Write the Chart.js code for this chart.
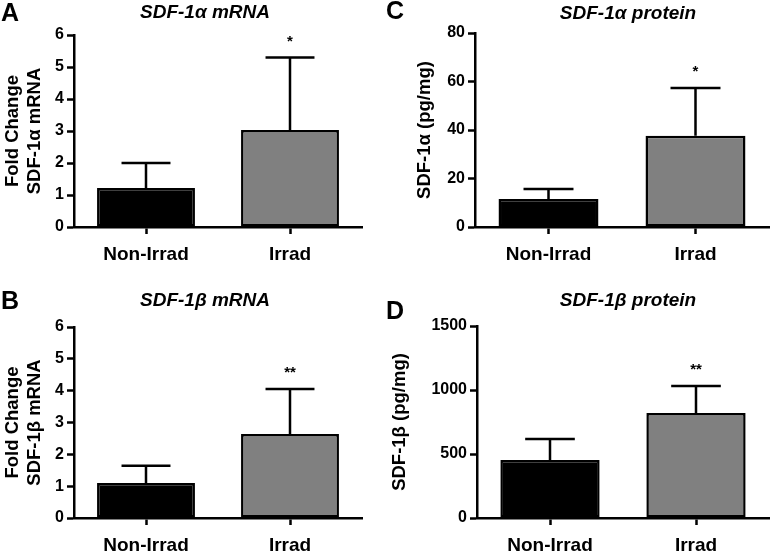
<!DOCTYPE html>
<html>
<head>
<meta charset="utf-8">
<script src="https://cdn.jsdelivr.net/npm/chart.js@4/dist/chart.umd.min.js"></script>
<style>
    html, body { margin: 0; padding: 0; background: #fff; }
    #wrap { position: relative; width: 771px; height: 556px; overflow: hidden; }
    .panel { position: absolute; }
</style>
</head>
<body>
<div id="wrap">
    <div class="panel" style="left:0;top:0;width:385px;height:278px;"><canvas id="chartA"></canvas></div>
    <div class="panel" style="left:385px;top:0;width:386px;height:278px;"><canvas id="chartC"></canvas></div>
    <div class="panel" style="left:0;top:278px;width:385px;height:278px;"><canvas id="chartB"></canvas></div>
    <div class="panel" style="left:385px;top:278px;width:386px;height:278px;"><canvas id="chartD"></canvas></div>
</div>
<script>
// ==================== 数据 ====================
const categories = ['Non-Irrad', 'Irrad'];

// A: SDF-1α mRNA (fold change)
const mrnaAlphaMean = [1.22, 3.03];
const mrnaAlphaErr = [0.78, 2.27];
const mrnaAlphaStars = ['', '*'];

// B: SDF-1β mRNA (fold change)
const mrnaBetaMean = [1.1, 2.64];
const mrnaBetaErr = [0.54, 1.41];
const mrnaBetaStars = ['', '**'];

// C: SDF-1α protein (pg/mg)
const protAlphaMean = [11.5, 37.6];
const protAlphaErr = [4.2, 19.7];
const protAlphaStars = ['', '*'];

// D: SDF-1β protein (pg/mg)
const protBetaMean = [453, 820];
const protBetaErr = [164, 211];
const protBetaStars = ['', '**'];

// y 轴刻度 [max, step]
const mrnaTicks = [6, 1];
const protAlphaTicks = [80, 20];
const protBetaTicks = [1500, 500];

const barColors = ['#000000', '#808080'];
const FONT = "'Liberation Sans', Arial, Helvetica, sans-serif";

// 误差线 + 星号
const errorBarPlugin = {
    id: 'errorBars',
    afterDatasetsDraw(chart, args, opts) {
        const { ctx } = chart;
        const yScale = chart.scales.y;
        const meta = chart.getDatasetMeta(0);
        const ds = chart.data.datasets[0];
        ctx.save();
        meta.data.forEach((bar, i) => {
            const top = yScale.getPixelForValue(ds.data[i] + opts.err[i]);
            const half = bar.width * 0.25;
            ctx.strokeStyle = '#000';
            ctx.lineWidth = 2.5;
            ctx.beginPath();
            ctx.moveTo(bar.x, bar.y);
            ctx.lineTo(bar.x, top);
            ctx.moveTo(bar.x - half, top);
            ctx.lineTo(bar.x + half, top);
            ctx.stroke();
            if (opts.stars[i]) {
                ctx.fillStyle = '#000';
                ctx.font = `bold 15px ${FONT}`;
                ctx.textAlign = 'center';
                ctx.textBaseline = 'middle';
                ctx.fillText(opts.stars[i], bar.x, top - 16);
            }
        });
        ctx.restore();
    }
};

// 面板字母 + 标题
const panelTextPlugin = {
    id: 'panelText',
    afterDraw(chart, args, opts) {
        const { ctx } = chart;
        ctx.save();
        ctx.fillStyle = '#000';
        ctx.textBaseline = 'middle';
        ctx.textAlign = 'left';
        ctx.font = `bold 25px ${FONT}`;
        ctx.fillText(opts.letter, opts.letterX, opts.letterY);
        ctx.textAlign = 'center';
        ctx.font = `italic bold 19px ${FONT}`;
        ctx.fillText(opts.title, opts.titleX, opts.titleY);
        ctx.restore();
    }
};

function makePanel(id, cfg) {
    const ctx = document.getElementById(id);
    return new Chart(ctx, {
        type: 'bar',
        data: {
            labels: categories,
            datasets: [{
                data: cfg.mean,
                backgroundColor: barColors,
                borderColor: '#000',
                borderWidth: 2.5,
                borderSkipped: false,
                barPercentage: 0.68,
                categoryPercentage: 1.0
            }]
        },
        options: {
            responsive: true,
            maintainAspectRatio: false,
            animation: false,
            layout: {
                padding: { top: cfg.padTop, right: cfg.padRight, left: 0, bottom: 0 }
            },
            scales: {
                x: {
                    afterFit: s => { s.height = cfg.xHeight; },
                    grid: {
                        drawOnChartArea: false,
                        drawTicks: true,
                        offset: false,
                        tickLength: 7,
                        tickWidth: 2.5,
                        tickColor: '#000'
                    },
                    border: { display: true, color: '#000', width: 2.5 },
                    ticks: {
                        color: '#000',
                        padding: 9,
                        font: { family: FONT, size: 19, weight: 'bold' }
                    }
                },
                y: {
                    min: 0,
                    max: cfg.ticks[0],
                    afterFit: s => { s.width = cfg.yWidth; },
                    grid: {
                        drawOnChartArea: false,
                        drawTicks: true,
                        tickLength: 7,
                        tickWidth: 2.5,
                        tickColor: '#000'
                    },
                    border: { display: true, color: '#000', width: 2.5 },
                    ticks: {
                        stepSize: cfg.ticks[1],
                        color: '#000',
                        padding: 3,
                        font: { family: FONT, size: 16, weight: 'bold' },
                        callback: v => String(v)
                    },
                    title: {
                        display: true,
                        text: cfg.yTitle,
                        color: '#000',
                        padding: { top: cfg.yTitlePad, bottom: 0 },
                        font: { family: FONT, size: 18.5, weight: 'bold', lineHeight: 1.2 }
                    }
                }
            },
            plugins: {
                legend: { display: false },
                tooltip: { enabled: false },
                errorBars: { err: cfg.err, stars: cfg.stars },
                panelText: {
                    letter: cfg.letter, letterX: cfg.letterX, letterY: cfg.letterY,
                    title: cfg.title, titleX: cfg.titleX, titleY: cfg.titleY
                }
            }
        },
        plugins: [errorBarPlugin, panelTextPlugin]
    });
}

Chart.defaults.font.family = FONT;

makePanel('chartA', {
    mean: mrnaAlphaMean, err: mrnaAlphaErr, stars: mrnaAlphaStars, ticks: mrnaTicks,
    yTitle: ['Fold Change', 'SDF-1α mRNA'], yTitlePad: 2,
    yWidth: 74, xHeight: 51, padTop: 35, padRight: 23,
    letter: 'A', letterX: 1, letterY: 14, title: 'SDF-1α mRNA', titleX: 205, titleY: 13
});
makePanel('chartC', {
    mean: protAlphaMean, err: protAlphaErr, stars: protAlphaStars, ticks: protAlphaTicks,
    yTitle: 'SDF-1α (pg/mg)', yTitlePad: 29,
    yWidth: 90, xHeight: 51, padTop: 33, padRight: 2,
    letter: 'C', letterX: 1, letterY: 12, title: 'SDF-1α protein', titleX: 243, titleY: 14
});
makePanel('chartB', {
    mean: mrnaBetaMean, err: mrnaBetaErr, stars: mrnaBetaStars, ticks: mrnaTicks,
    yTitle: ['Fold Change', 'SDF-1β mRNA'], yTitlePad: 2,
    yWidth: 74, xHeight: 38, padTop: 49, padRight: 23,
    letter: 'B', letterX: 1, letterY: 24, title: 'SDF-1β mRNA', titleX: 205, titleY: 23
});
makePanel('chartD', {
    mean: protBetaMean, err: protBetaErr, stars: protBetaStars, ticks: protBetaTicks,
    yTitle: 'SDF-1β (pg/mg)', yTitlePad: 4,
    yWidth: 92, xHeight: 38, padTop: 48, padRight: 2,
    letter: 'D', letterX: 1, letterY: 34, title: 'SDF-1β protein', titleX: 243, titleY: 23
});
</script>
</body>
</html>
